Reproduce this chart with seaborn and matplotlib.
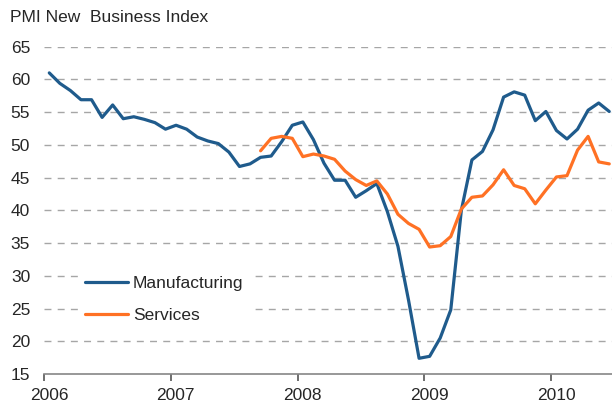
import numpy as np
import pandas as pd
import matplotlib
matplotlib.use('Agg')
import matplotlib.pyplot as plt
import matplotlib.transforms as mtransforms
import seaborn as sns

# Monthly PMI new business readings
months = pd.date_range('2006-01-01', '2010-06-01', freq='MS')
manufacturing = [
    61.0, 59.4, 58.3, 56.9, 56.9, 54.2, 56.1, 54.0, 54.3, 53.9, 53.4, 52.4,
    53.0, 52.4, 51.2, 50.6, 50.2, 48.9, 46.7, 47.1, 48.1, 48.3, 50.5, 53.0,
    53.5, 50.8, 47.2, 44.6, 44.6, 42.0, 43.0, 44.1, 39.8, 34.5, 26.3, 17.4,
    17.7, 20.5, 24.8, 40.0, 47.7, 49.0, 52.3, 57.3, 58.1, 57.6, 53.7, 55.1,
    52.2, 50.9, 52.4, 55.3, 56.4, 55.1,
]
services_start = '2007-09-01'
services = [
    49.1, 51.0, 51.3, 51.0,
    48.2, 48.6, 48.3, 47.8, 46.0, 44.7, 43.8, 44.5, 42.5, 39.4, 38.0, 37.1,
    34.4, 34.6, 36.0, 40.2, 42.0, 42.2, 43.9, 46.2, 43.8, 43.3, 41.0, 43.1,
    45.1, 45.3, 49.2, 51.3, 47.4, 47.1,
]
year_ticks = [2006, 2007, 2008, 2009, 2010]
y_ticks = list(range(15, 70, 5))

# decimal year at mid-month
def to_x(d):
    return d.year + (d.month - 0.5) / 12

man = pd.DataFrame({'x': [to_x(d) for d in months], 'value': manufacturing, 'series': 'Manufacturing'})
serv_months = pd.date_range(services_start, periods=len(services), freq='MS')
serv = pd.DataFrame({'x': [to_x(d) for d in serv_months], 'value': services, 'series': 'Services'})
df = pd.concat([man, serv], ignore_index=True)

sns.set_style('white')
plt.rcParams['font.family'] = ['Liberation Sans', 'DejaVu Sans']
fs = 12.5

fig = plt.figure(figsize=(6.12, 4.12), dpi=100)
ax = fig.add_axes([44 / 612, 1 - 374 / 412, 1 - 44 / 612, (374 - 46.7) / 412])

for yv in y_ticks[1:]:
    ax.axhline(yv, color='#a6a6a6', lw=1, ls=(0, (5, 4.5)), zorder=0)

sns.lineplot(data=df, x='x', y='value', hue='series',
             palette={'Manufacturing': '#1f5b8c', 'Services': '#ff7124'},
             linewidth=2.3, ax=ax, legend=True)

ax.set_xlim(2006, 2010.48)
ax.set_ylim(15, 65)
ax.set_xticks(year_ticks)
ax.set_xticklabels([str(y) for y in year_ticks])
ax.set_yticks(y_ticks)
ax.set_xlabel('')
ax.set_ylabel('')
for s in ['top', 'right', 'left']:
    ax.spines[s].set_visible(False)
ax.spines['bottom'].set_color('#868686')
ax.spines['bottom'].set_linewidth(1.2)
ax.tick_params(axis='x', length=5, width=1.2, color='#555555', direction='out',
               pad=5, labelsize=fs, bottom=True)
ax.tick_params(axis='y', length=0, pad=10, labelsize=fs)

# year labels sit a little right of their tick marks
shift = mtransforms.ScaledTranslation(5 / 100, 0, fig.dpi_scale_trans)
for lbl in ax.get_xticklabels():
    lbl.set_transform(lbl.get_transform() + shift)

leg = ax.legend(loc='center left', bbox_to_anchor=(0.062, 0.227), frameon=True,
                facecolor='white', edgecolor='none', framealpha=1,
                fontsize=fs, handlelength=2.45, handletextpad=0.3,
                labelspacing=0.95, borderpad=0.35, borderaxespad=0)
for line in leg.get_lines():
    line.set_linewidth(2.3)

fig.text(10 / 612, 1 - 18 / 412, 'PMI New  Business Index', fontsize=fs, va='center', ha='left')

fig.savefig('out.png', dpi=100)
